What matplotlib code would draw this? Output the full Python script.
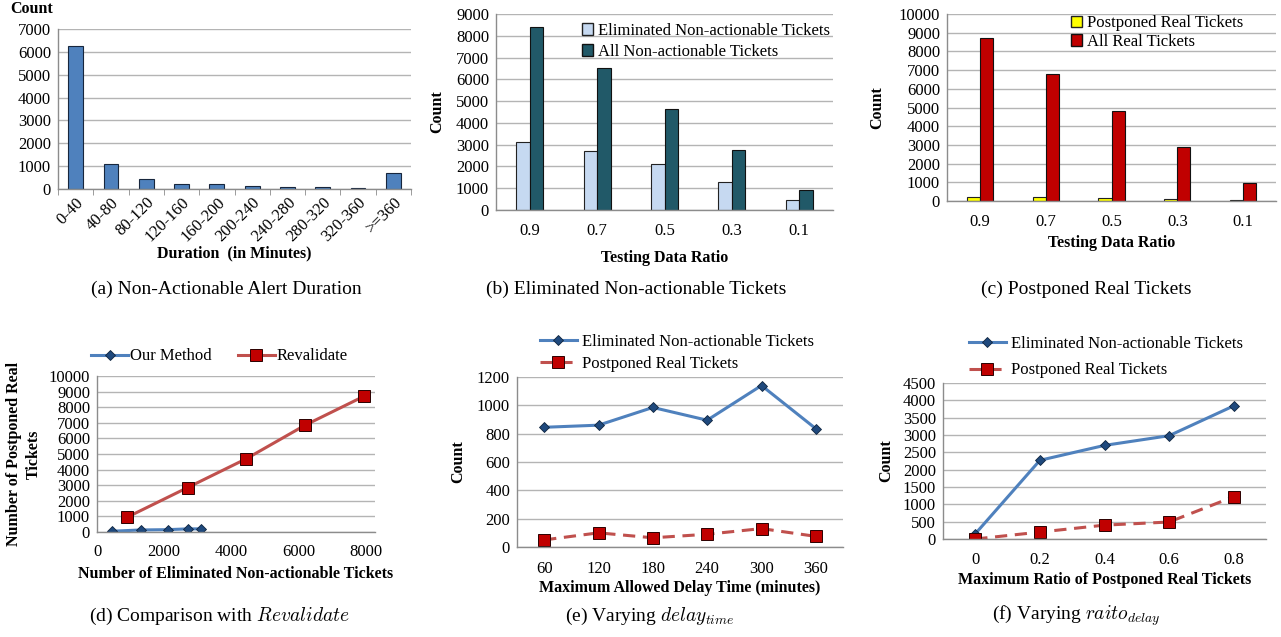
import numpy as np
import matplotlib
matplotlib.use("Agg")
import matplotlib.pyplot as plt
from matplotlib.patches import Patch

plt.rcParams['font.family'] = ['Liberation Serif', 'DejaVu Serif']
plt.rcParams['mathtext.fontset'] = 'cm'

# (a) duration histogram
dur_labels = ['0-40', '40-80', '80-120', '120-160', '160-200', '200-240',
              '240-280', '280-320', '320-360', '>=360']
dur_counts = [6250, 1100, 420, 220, 220, 120, 80, 80, 60, 700]

# (b) / (c) testing ratio
ratios = ['0.9', '0.7', '0.5', '0.3', '0.1']
elim_na = [3100, 2700, 2100, 1300, 450]
all_na = [8400, 6500, 4650, 2750, 920]
post_real = [200, 200, 150, 130, 50]
all_real = [8700, 6800, 4800, 2900, 950]

# (d) comparison with Revalidate
our_x = [450, 1300, 2100, 2700, 3100]
our_y = [50, 130, 150, 200, 200]
rev_x = [900, 2700, 4450, 6200, 7950]
rev_y = [950, 2850, 4700, 6850, 8700]

# (e) delay time
delay_times = ['60', '120', '180', '240', '300', '360']
elim_delay = [845, 860, 985, 895, 1140, 835]
post_delay = [50, 100, 65, 90, 130, 75]

# (f) ratio delay
ratio_delay = ['0', '0.2', '0.4', '0.6', '0.8']
elim_ratio = [150, 2270, 2700, 2980, 3840]
post_ratio = [0, 200, 400, 490, 1220]

GRID = '#b4b4b4'
SPINE = '#8c8c8c'
TFS = 12
LFS = 11.5
BLUE_L = '#4f81bd'
BLUE_M = '#1f497d'
RED_L = '#c0504d'
RED_M = '#c00000'

W, H = 1281, 637
fig = plt.figure(figsize=(W / 100, H / 100), dpi=100)


def px_axes(l, t, r, b):
    return fig.add_axes([l / W, 1 - b / H, (r - l) / W, (b - t) / H])


def excel_style(ax):
    for s in ['top', 'right']:
        ax.spines[s].set_visible(False)
    for s in ['left', 'bottom']:
        ax.spines[s].set_color(SPINE)
        ax.spines[s].set_linewidth(1.0)
    ax.yaxis.grid(True, color=GRID, linewidth=1.0)
    ax.set_axisbelow(True)
    ax.tick_params(axis='both', length=0, labelsize=TFS, pad=5)


def labels(ax, xl, yl, xpos, ypos):
    ax.set_xlabel(xl, fontsize=LFS, fontweight='bold')
    ax.xaxis.set_label_coords(0.5, xpos)
    if yl:
        ax.set_ylabel(yl, fontsize=LFS, fontweight='bold', linespacing=1.3)
        ax.yaxis.set_label_coords(ypos, 0.5)


# ---- (a)
ax = px_axes(58, 29, 411, 189)
excel_style(ax)
x = np.arange(len(dur_labels))
ax.bar(x, dur_counts, width=0.42, color=BLUE_L, edgecolor='#17263d', linewidth=0.8)
ax.set_xlim(-0.5, len(dur_labels) - 0.5)
ax.set_ylim(0, 7000)
ax.set_yticks(np.arange(0, 7001, 1000))
ax.set_xticks(x)
ax.set_xticklabels(dur_labels, rotation=45, ha='right', rotation_mode='anchor')
ax.set_xticks(np.arange(-0.5, len(dur_labels)), minor=True)
ax.tick_params(axis='x', which='minor', length=4, color=SPINE)
ax.tick_params(axis='x', which='major', pad=4)
labels(ax, 'Duration  (in Minutes)', None, -0.35, 0)
fig.text(10 / W, 1 - 9 / H, 'Count', fontsize=LFS, fontweight='bold', va='center', ha='left')

# ---- (b)
ax = px_axes(496, 14, 833, 210)
excel_style(ax)
x = np.arange(len(ratios))
bw = 0.2
ax.bar(x - bw / 2, elim_na, width=bw, color='#c6d9f1', edgecolor='#222222', linewidth=0.8)
ax.bar(x + bw / 2, all_na, width=bw, color='#215968', edgecolor='#111111', linewidth=0.8)
ax.set_xlim(-0.5, len(ratios) - 0.5)
ax.set_ylim(0, 9000)
ax.set_yticks(np.arange(0, 9001, 1000))
ax.set_xticks(x)
ax.set_xticklabels(ratios)
ax.tick_params(axis='x', pad=9.4)
labels(ax, 'Testing Data Ratio', 'Count', -0.204, -0.151)
h = [Patch(facecolor='#c6d9f1', edgecolor='#222222'), Patch(facecolor='#215968', edgecolor='#111111')]
ax.legend(h, ['Eliminated Non-actionable Tickets', 'All Non-actionable Tickets'],
          loc='upper left', bbox_to_anchor=(0.22, 1.015), frameon=False, fontsize=TFS,
          handlelength=0.7, handleheight=0.7, handletextpad=0.3, labelspacing=0.3, borderpad=0.2)

# ---- (c)
ax = px_axes(947, 14, 1276, 201)
excel_style(ax)
ax.bar(x - bw / 2, post_real, width=bw, color='#ffff00', edgecolor='#222222', linewidth=0.8)
ax.bar(x + bw / 2, all_real, width=bw, color=RED_M, edgecolor='#111111', linewidth=0.8)
ax.set_xlim(-0.5, len(ratios) - 0.5)
ax.set_ylim(0, 10000)
ax.set_yticks(np.arange(0, 10001, 1000))
ax.set_xticks(x)
ax.set_xticklabels(ratios)
ax.tick_params(axis='x', pad=9.4)
labels(ax, 'Testing Data Ratio', 'Count', -0.182, -0.188)
h = [Patch(facecolor='#ffff00', edgecolor='#222222'), Patch(facecolor=RED_M, edgecolor='#111111')]
ax.legend(h, ['Postponed Real Tickets', 'All Real Tickets'],
          loc='upper left', bbox_to_anchor=(0.34, 1.055), frameon=False, fontsize=TFS,
          handlelength=0.7, handleheight=0.7, handletextpad=0.3, labelspacing=0.15, borderpad=0.2)

# ---- (d)
ax = px_axes(97, 376, 375, 532)
excel_style(ax)
ax.plot(our_x, our_y, color=BLUE_L, linewidth=2.2, marker='D', markersize=5,
        markerfacecolor=BLUE_M, markeredgecolor='#0f243e', markeredgewidth=0.6, label='Our Method')
ax.plot(rev_x, rev_y, color=RED_L, linewidth=2.2, marker='s', markersize=8,
        markerfacecolor=RED_M, markeredgecolor='#2b0000', markeredgewidth=0.7, label='Revalidate')
ax.set_xlim(0, 8280)
ax.set_ylim(0, 10000)
ax.set_xticks(np.arange(0, 8001, 2000))
ax.set_yticks(np.arange(0, 10001, 1000))
ax.tick_params(axis='x', pad=8.6)
labels(ax, 'Number of Eliminated Non-actionable Tickets', 'Number of Postponed Real\nTickets',
       -0.218, -0.2)
ax.legend(loc='lower center', bbox_to_anchor=(0.44, 1.01), ncol=2, frameon=False, fontsize=TFS,
          handlelength=2.2, handletextpad=0.1, columnspacing=1.6, borderpad=0.1)

# ---- (e)
ax = px_axes(517, 377, 843, 547)
excel_style(ax)
x = np.arange(len(delay_times))
ax.plot(x, elim_delay, color=BLUE_L, linewidth=2.2, marker='D', markersize=5,
        markerfacecolor=BLUE_M, markeredgecolor='#0f243e', markeredgewidth=0.6,
        label='Eliminated Non-actionable Tickets')
ax.plot(x, post_delay, color=RED_L, linewidth=2.2, linestyle=(0, (4, 2.5)), marker='s', markersize=8,
        markerfacecolor=RED_M, markeredgecolor='#2b0000', markeredgewidth=0.7,
        label='Postponed Real Tickets')
ax.set_xlim(-0.5, len(delay_times) - 0.5)
ax.set_ylim(0, 1200)
ax.set_yticks(np.arange(0, 1201, 200))
ax.set_xticks(x)
ax.set_xticklabels(delay_times)
ax.tick_params(axis='x', pad=10)
labels(ax, 'Maximum Allowed Delay Time (minutes)', 'Count', -0.194, -0.156)
ax.legend(loc='lower left', bbox_to_anchor=(0.04, 0.97), frameon=False, fontsize=TFS,
          handlelength=2.2, handletextpad=0.3, labelspacing=0.35, borderpad=0.1)

# ---- (f)
ax = px_axes(943, 383, 1266, 539)
excel_style(ax)
x = np.arange(len(ratio_delay))
ax.plot(x, elim_ratio, color=BLUE_L, linewidth=2.2, marker='D', markersize=5,
        markerfacecolor=BLUE_M, markeredgecolor='#0f243e', markeredgewidth=0.6,
        label='Eliminated Non-actionable Tickets')
ax.plot(x, post_ratio, color=RED_L, linewidth=2.2, linestyle=(0, (4, 2.5)), marker='s', markersize=8,
        markerfacecolor=RED_M, markeredgecolor='#2b0000', markeredgewidth=0.7,
        label='Postponed Real Tickets')
ax.set_xlim(-0.5, len(ratio_delay) - 0.5)
ax.set_ylim(0, 4500)
ax.set_yticks(np.arange(0, 4501, 500))
ax.set_xticks(x)
ax.set_xticklabels(ratio_delay)
ax.tick_params(axis='x', pad=9.4)
labels(ax, 'Maximum Ratio of Postponed Real Tickets', 'Count', -0.212, -0.152)
ax.legend(loc='lower left', bbox_to_anchor=(0.05, 0.965), frameon=False, fontsize=TFS,
          handlelength=2.2, handletextpad=0.3, labelspacing=0.65, borderpad=0.1)

# captions
CFS = 14
captions = [
    (226, 289, '(a) Non-Actionable Alert Duration'),
    (636, 289, '(b) Eliminated Non-actionable Tickets'),
    (1086, 289, '(c) Postponed Real Tickets'),
    (220, 616, '(d) Comparison with $Revalidate$'),
    (650, 616, '(e) Varying $delay_{time}$'),
    (1076, 616, '(f) Varying $raito_{delay}$'),
]
for cx, cy, txt in captions:
    fig.text(cx / W, 1 - cy / H, txt, fontsize=CFS, ha='center', va='center')

fig.savefig('out.png', dpi=100)
